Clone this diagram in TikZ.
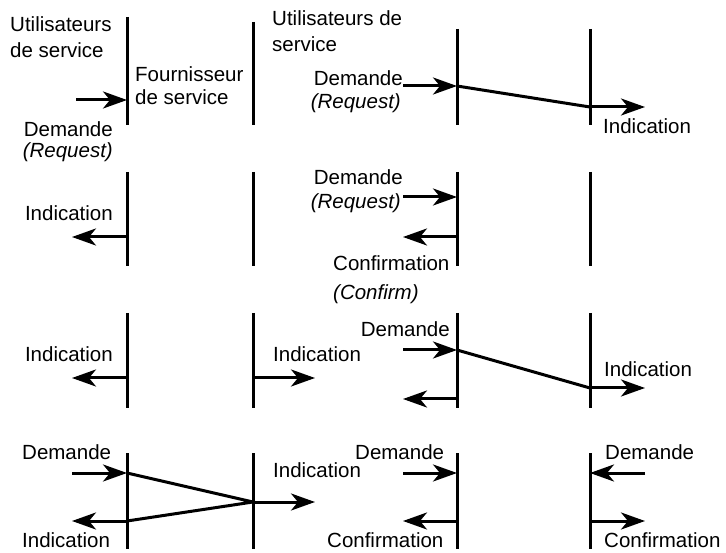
\documentclass[tikz,border=0pt]{standalone}
\usepackage{fontspec}
\setmainfont{Liberation Sans}
\usepackage{tikz}
\usetikzlibrary{arrows.meta,positioning,calc}

\tikzset{
  lifeline/.style={line width=3pt},
  wire/.style={line width=3pt},
  msg/.style={line width=3pt, -{Stealth[length=24pt,width=17pt,inset=7pt]}},
  lbl/.style={inner sep=0pt, font=\fontsize{20.5}{24}\selectfont},
  lbli/.style={lbl, font=\fontsize{20.5}{24}\selectfont\itshape}
}

\begin{document}
\begin{tikzpicture}[x=1pt,y=-1pt]
  \useasboundingbox (0,0) rectangle (726,553);

  % lifelines
  \draw[lifeline] (127,17) -- (127,125);
  \draw[lifeline] (253,22) -- (253,125);
  \draw[lifeline] (457,29) -- (457,125);
  \draw[lifeline] (590,29) -- (590,125);
  \foreach \t/\b in {172/266, 313/408, 453/549} {
    \draw[lifeline] (127,\t) -- (127,\b);
    \draw[lifeline] (253,\t) -- (253,\b);
    \draw[lifeline] (457,\t) -- (457,\b);
    \draw[lifeline] (590,\t) -- (590,\b);
  }

  % row 1
  \node[lbl, anchor=base west] (user1a) at (10,32) {Utilisateurs};
  \node[lbl, anchor=base west] (user1b) at (10,58) {de service};
  \node[lbl, anchor=base west] (prov1a) at (135,82) {Fournisseur};
  \node[lbl, anchor=base west] (prov1b) at (135,105) {de service};
  \node[lbl, anchor=base west] (user2a) at (272,26) {Utilisateurs de};
  \node[lbl, anchor=base west] (user2b) at (272,52) {service};
  \node[lbl, anchor=base east] (dem0) at (113,137) {Demande};
  \node[lbli, anchor=base east] (req0) at (113,158) {(Request)};
  \node[lbl, anchor=base east] (dem1) at (403,86) {Demande};
  \node[lbli, anchor=base east] (req1) at (401,109) {(Request)};
  \node[lbl, anchor=base west] (ind1) at (603,134) {Indication};

  \coordinate (s0) at (76,100);   \coordinate (A1) at (127,100);
  \coordinate (s1) at (403,86);   \coordinate (C1) at (457,86);
  \coordinate (D1) at (590,107);  \coordinate (e1) at (645,107);
  \draw[msg] (s0) -- (A1);
  \draw[msg] (s1) -- (C1);
  \draw[wire] (C1) -- (D1);
  \draw[msg] (D1) -- (e1);

  % row 2
  \node[lbl, anchor=base east] (ind2) at (113,221) {Indication};
  \node[lbl, anchor=base east] (dem2) at (403,185) {Demande};
  \node[lbli, anchor=base east] (req2) at (401,209) {(Request)};
  \node[lbl, anchor=base west] (conf2) at (333,271) {Confirmation};
  \node[lbli, anchor=base west] (cfm2) at (333,300) {(Confirm)};

  \coordinate (A2) at (127,237);  \coordinate (e2) at (72,237);
  \coordinate (s2) at (403,197);  \coordinate (C2a) at (457,197);
  \coordinate (C2b) at (457,237); \coordinate (e2b) at (403,237);
  \draw[msg] (A2) -- (e2);
  \draw[msg] (s2) -- (C2a);
  \draw[msg] (C2b) -- (e2b);

  % row 3
  \node[lbl, anchor=base east] (ind3a) at (113,362) {Indication};
  \node[lbl, anchor=base west] (ind3b) at (273,362) {Indication};
  \node[lbl, anchor=base east] (dem3) at (450,337) {Demande};
  \node[lbl, anchor=base west] (ind3c) at (604,377) {Indication};

  \coordinate (A3) at (127,378);  \coordinate (e3a) at (72,378);
  \coordinate (B3) at (253,378);  \coordinate (e3b) at (315,378);
  \coordinate (s3) at (403,350);  \coordinate (C3a) at (457,350);
  \coordinate (D3) at (590,388);  \coordinate (e3c) at (645,388);
  \coordinate (C3b) at (457,399); \coordinate (e3d) at (403,399);
  \draw[msg] (A3) -- (e3a);
  \draw[msg] (B3) -- (e3b);
  \draw[msg] (s3) -- (C3a);
  \draw[wire] (C3a) -- (D3);
  \draw[msg] (D3) -- (e3c);
  \draw[msg] (C3b) -- (e3d);

  % row 4
  \node[lbl, anchor=base west] (dem4a) at (22,459) {Demande};
  \node[lbl, anchor=base west] (ind4a) at (22,547) {Indication};
  \node[lbl, anchor=base west] (ind4b) at (273,477) {Indication};
  \node[lbl, anchor=base west] (dem4c) at (355,459) {Demande};
  \node[lbl, anchor=base west] (conf4c) at (327,547) {Confirmation};
  \node[lbl, anchor=base west] (dem4d) at (605,459) {Demande};
  \node[lbl, anchor=base west] (conf4d) at (604,547) {Confirmation};

  \coordinate (s4a) at (72,473);  \coordinate (A4a) at (127,473);
  \coordinate (B4) at (253,502);  \coordinate (e4b) at (315,502);
  \coordinate (A4b) at (127,521); \coordinate (e4a) at (72,521);
  \coordinate (s4c) at (403,473); \coordinate (C4a) at (457,473);
  \coordinate (C4b) at (457,521); \coordinate (e4c) at (403,521);
  \coordinate (s4d) at (645,473); \coordinate (D4a) at (590,473);
  \coordinate (D4b) at (590,521); \coordinate (e4d) at (645,521);
  \draw[msg] (s4a) -- (A4a);
  \draw[wire] (A4a) -- (B4) -- (A4b);
  \draw[msg] (A4b) -- (e4a);
  \draw[msg] (B4) -- (e4b);
  \draw[msg] (s4c) -- (C4a);
  \draw[msg] (C4b) -- (e4c);
  \draw[msg] (s4d) -- (D4a);
  \draw[msg] (D4b) -- (e4d);
\end{tikzpicture}
\end{document}
